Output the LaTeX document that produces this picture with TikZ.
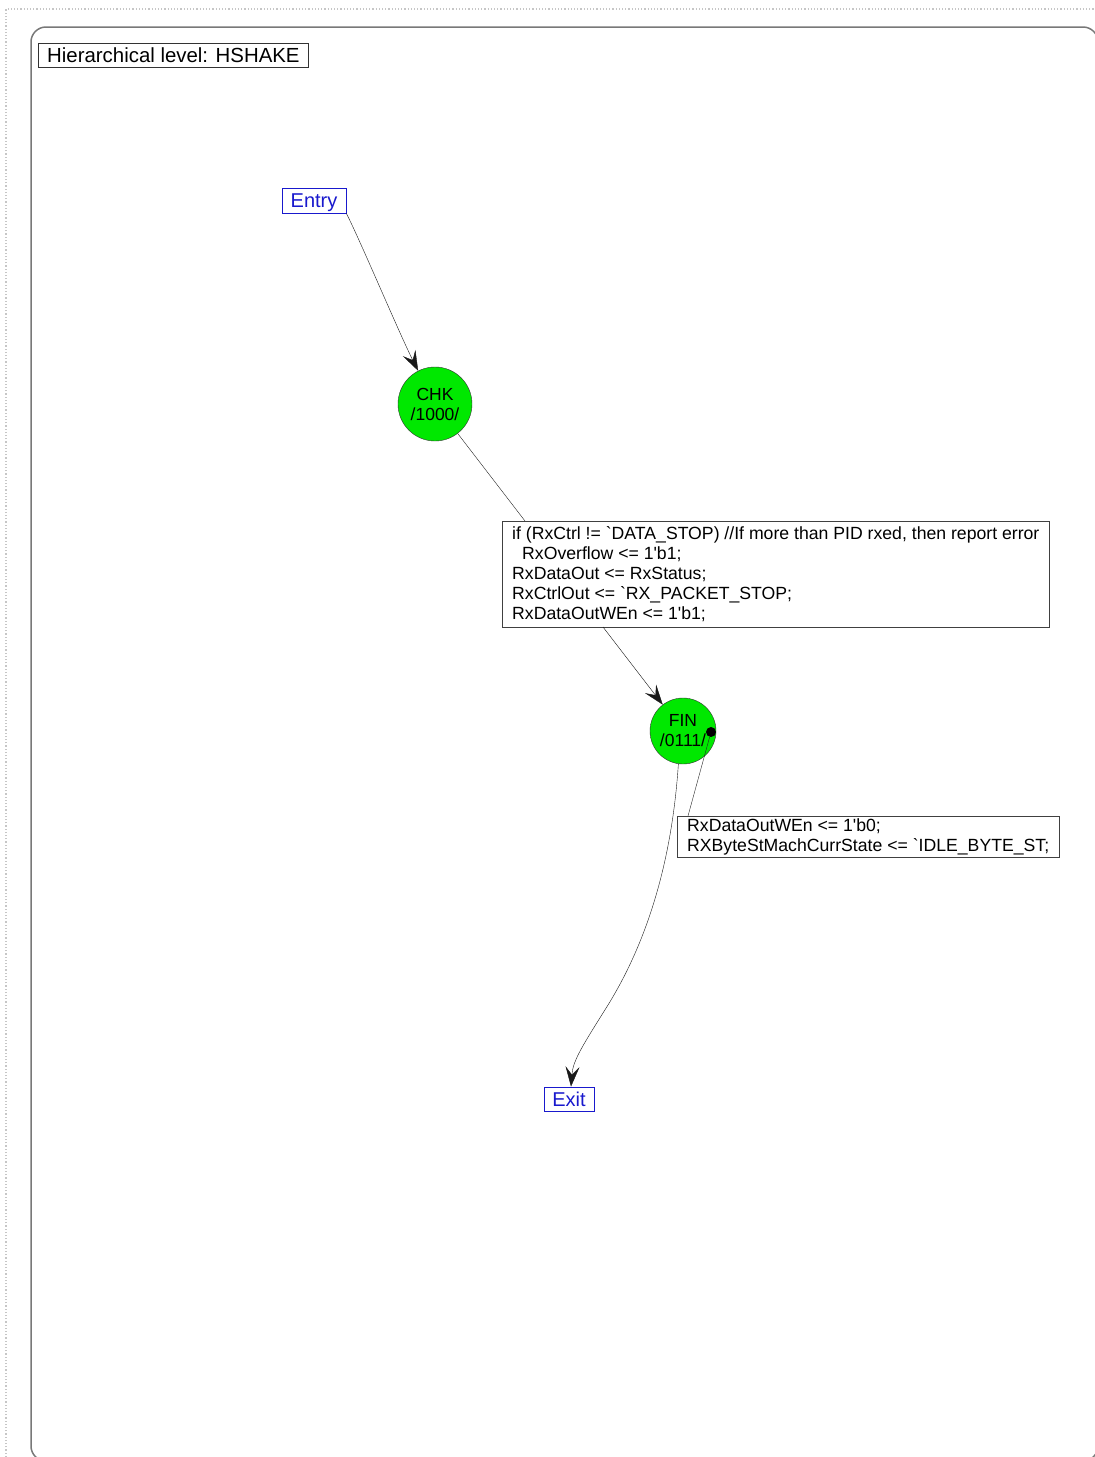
\documentclass[tikz,border=0pt]{standalone}
\usepackage{fontspec}
\setmainfont{Liberation Sans}
\usetikzlibrary{arrows.meta}
\definecolor{stategreen}{RGB}{0,232,0}
\definecolor{portblue}{RGB}{25,25,205}
\definecolor{framegray}{RGB}{120,120,120}
\newcommand{\bq}{\textasciigrave}
\newcommand{\tq}{\textquotesingle}

\begin{document}
\begin{tikzpicture}[x=1pt,y=-1pt]
                        \tikzstyle{state}=[circle, draw=black!80, fill=stategreen, inner sep=0pt, align=center, font=\fontsize{17.5}{20}\selectfont]
                        \tikzstyle{port}=[draw=portblue, text=portblue, thick, inner sep=0pt, text height=14.3pt, text depth=0pt, font=\fontsize{20}{24}\selectfont]
                        \tikzstyle{action}=[draw=black!75, anchor=north west, align=left, inner xsep=10pt, inner ysep=5.5pt, font=\fontsize{17.65}{20}\selectfont]
                        \tikzstyle{trans}=[-{Stealth[length=20pt,width=14pt,inset=8pt]}, black!90]
                        \useasboundingbox (0,0) rectangle (1095,1457);
                        \clip (0,0) rectangle (1095,1457);
                        % page and level frame
                        \draw[gray!45, dotted, line width=1.2pt] (6,1457) -- (6,9) -- (1095,9);
                        \draw[framegray, line width=1.5pt, rounded corners=15pt] (31,27) rectangle (1098,1461);
                        \node[draw=black!80, anchor=west, minimum height=24pt, inner xsep=9pt, inner ysep=0pt, font=\fontsize{20.4}{22}\selectfont] (level) at (38,55) {Hierarchical level: HSHAKE};
                        % states
                        \node[port, minimum width=64pt, minimum height=25pt] (entry) at (314,200.5) {Entry};
                        \node[state, minimum size=74pt] (chk) at (435,404) {CHK\\/1000/};
                        \node[state, minimum size=66pt] (fin) at (683,731) {FIN\\/0111/};
                        \node[port, minimum width=50pt, minimum height=24pt] (exit) at (569,1099) {Exit};
                        \node[circle, fill=black, inner sep=0pt, minimum size=10pt] (dot) at (711,732) {};
                        % actions
                        \node[action] (act1) at (502,521) {if (RxCtrl != \bq DATA\_STOP) //If more than PID rxed, then report error\\
                            \hspace*{10pt}RxOverflow <= 1\tq b1;\\
                            RxDataOut <= RxStatus;\\
                            RxCtrlOut <= \bq RX\_PACKET\_STOP;\\
                            RxDataOutWEn <= 1\tq b1;};
                        \node[action, inner ysep=2.5pt] (act2) at (677,816) {RxDataOutWEn <= 1\tq b0;\\
                            RXByteStMachCurrState <= \bq IDLE\_BYTE\_ST;};
                        \coordinate (act1in) at (525,521);
                        \coordinate (act1out) at (603,627);
                        \coordinate (act2in) at (688,816);
                        % transitions
                        \draw[trans] (entry.south east) .. controls (360,240) and (400,335) .. (chk);
                        \draw[black!85] (chk) -- (act1in);
                        \draw[trans] (act1out) -- (fin);
                        \draw[black!85] (dot) -- (act2in);
                        \draw[trans] (fin.-98) .. controls (672,860) and (648,940) .. (608,1005)
                            .. controls (583,1045) and (573,1060) .. ([xshift=2pt]exit.north);
                    \end{tikzpicture}
\end{document}
